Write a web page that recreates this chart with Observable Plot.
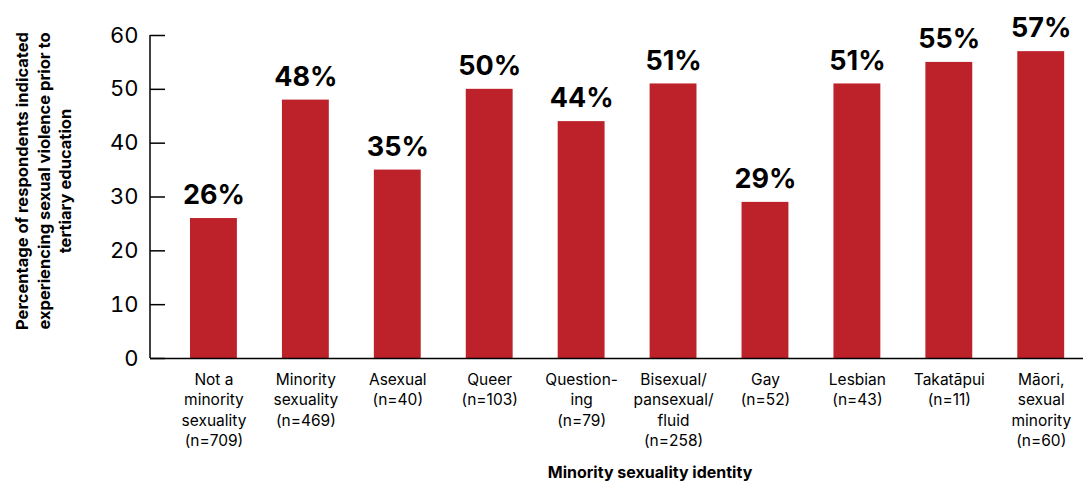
<!DOCTYPE html>
<html>
<head>
<meta charset="utf-8">
<script src="https://cdn.jsdelivr.net/npm/d3@7"></script>
<script src="https://cdn.jsdelivr.net/npm/@observablehq/plot@0.6"></script>
<style>
  body { margin: 0; background: #fff; }
  #chart svg { font-family: Inter, "Noto Sans", sans-serif; }
</style>
</head>
<body>
<div id="chart"></div>
<script>
const categories = [
  "Not a\nminority\nsexuality\n(n=709)",
  "Minority\nsexuality\n(n=469)",
  "Asexual\n(n=40)",
  "Queer\n(n=103)",
  "Question-\ning\n(n=79)",
  "Bisexual/\npansexual/\nfluid\n(n=258)",
  "Gay\n(n=52)",
  "Lesbian\n(n=43)",
  "Takatāpui\n(n=11)",
  "Māori,\nsexual\nminority\n(n=60)"
];
const values = [26, 48, 35, 50, 44, 51, 29, 51, 55, 57];
const yTicks = [0, 10, 20, 30, 40, 50, 60];
const xLabel = "Minority sexuality identity";
const yLabel = "Percentage of respondents indicated\nexperiencing sexual violence prior to\ntertiary education";

const data = categories.map((c, i) => ({category: c, value: values[i]}));

const barColor = "#bd2129";

const leftLine = (index, scales, values, dim) => {
  const g = d3.create("svg:g");
  g.append("line")
    .attr("x1", dim.marginLeft).attr("x2", dim.marginLeft)
    .attr("y1", scales.y(60)).attr("y2", scales.y(0))
    .attr("stroke", "#000").attr("stroke-width", 1.5);
  return g.node();
};

const chart = Plot.plot({
  width: 1083,
  height: 481,
  marginLeft: 150,
  marginRight: 0,
  marginTop: 35,
  marginBottom: 123,
  x: {domain: categories, paddingInner: 0.49, paddingOuter: 0.32, align: 0.68, round: false},
  y: {domain: [0, 60]},
  marks: [
    Plot.barY(data, {x: "category", y: "value", fill: barColor}),
    Plot.text(data, {x: "category", y: "value", text: d => d.value + "%", dy: -23, fontSize: 27, fontWeight: "bold", fill: "#000"}),
    Plot.ruleY([0], {stroke: "#000", strokeWidth: 1.5}),
    leftLine,
    Plot.axisY({ticks: yTicks, tickSize: -15, tickPadding: 27, fontSize: 22, stroke: "#000", strokeWidth: 1.5, fill: "#000", label: null}),
    Plot.axisX({tickSize: 0, tickPadding: 12, fontSize: 15.5, fill: "#000", lineHeight: 1.32, label: null}),
    Plot.text([yLabel], {frameAnchor: "left", rotate: -90, dx: -108, dy: -16, fontSize: 16.5, fontWeight: "bold", lineHeight: 1.33, fill: "#000", textAnchor: "middle", lineAnchor: "middle"}),
    Plot.text([xLabel], {frameAnchor: "bottom", dx: 33, dy: 114, fontSize: 16, fontWeight: "bold", fill: "#000", textAnchor: "middle", lineAnchor: "middle"})
  ]
});
document.getElementById("chart").appendChild(chart);
</script>
</body>
</html>
